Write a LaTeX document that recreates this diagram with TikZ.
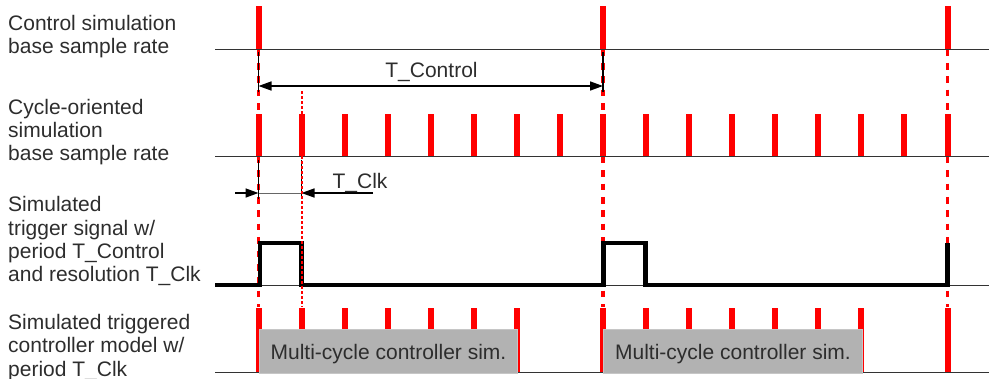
\documentclass[tikz,border=0pt]{standalone}
\usepackage{fontspec}
\setmainfont{Liberation Sans}
\usetikzlibrary{arrows.meta}
\definecolor{txt}{RGB}{45,45,45}
\definecolor{redc}{RGB}{255,0,0}
\definecolor{boxfill}{RGB}{178,178,178}
\definecolor{boxline}{RGB}{198,198,198}
\begin{document}
\begin{tikzpicture}[x=1pt,y=-1pt,
  lbl/.style={anchor=base west, align=left, inner sep=0pt, text=txt, font=\fontsize{21}{23.3}\selectfont},
  dimlbl/.style={anchor=base, inner sep=0pt, text=txt, font=\fontsize{21}{23.3}\selectfont},
  axis/.style={line width=1.5pt, black!80},
  bar/.style={line width=6pt, redc},
  rdash/.style={redc, line width=3.8pt, dash pattern=on 6.7pt off 6.7pt},
  rdot/.style={redc, line width=2pt, dash pattern=on 3pt off 2pt},
  tickline/.style={black, line width=1.2pt},
  dimarrow/.style={black, line width=1.6pt, -{Triangle[length=13pt,width=9pt]}},
  sig/.style={black, line width=4.2pt, line join=miter},
  simbox/.style={fill=boxfill, draw=boxline, line width=1pt, inner sep=0pt, minimum height=43.5pt, text=txt, font=\fontsize{21}{23.3}\selectfont, text height=16pt, text depth=0pt, anchor=north west}
]
\useasboundingbox (0,0) rectangle (989,378);
\clip (0,0) rectangle (989,378);
% red dashed sync lines
\foreach \k in {0,8,16}
  \draw[rdash] ({258.5+43.0625*\k},49.5) -- ({258.5+43.0625*\k},307);
% bars row 1
\foreach \k in {0,8,16}
  \draw[bar] ({258.5+43.0625*\k},6) -- ({258.5+43.0625*\k},49.5);
% bars row 2
\foreach \k in {0,...,16}
  \draw[bar] ({258.5+43.0625*\k},114) -- ({258.5+43.0625*\k},156.5);
% bars row 4
\foreach \k in {0,...,6,8,9,...,14,16}
  \draw[bar] ({258.5+43.0625*\k},308) -- ({258.5+43.0625*\k},372.5);
% axis lines
\draw[axis] (215,49.5) -- (989,49.5);
\draw[axis] (215,156.5) -- (989,156.5);
\draw[black!80, line width=1.2pt] (215,285.8) -- (989,285.8);
\draw[axis] (215,372.5) -- (989,372.5);
% trigger signal
\draw[sig] (215,285.3) -- (259.8,285.3) -- (259.8,243) -- (301.5,243) -- (301.5,285.3)
  -- (603.5,285.3) -- (603.5,243) -- (645.5,243) -- (645.5,285.3) -- (947.5,285.3) -- (947.5,243);
% simulation boxes
\node[simbox, minimum width=258pt] (box1) at (259,329) {Multi-cycle controller sim.};
\node[simbox, minimum width=259pt] (box2) at (603,329) {Multi-cycle controller sim.};
% T_Control dimension
\coordinate (c0) at (258.5,86);
\coordinate (c8) at (603,86);
\coordinate (c0t) at (258.5,52);
\coordinate (c0b) at (258.5,92);
\coordinate (c8t) at (603,52);
\coordinate (c8b) at (603,92);
\draw[tickline] (c0t) -- (c0b);
\draw[tickline] (c8t) -- (c8b);
\draw[black, line width=1.6pt, {Triangle[length=13pt,width=9pt]}-{Triangle[length=13pt,width=9pt]}] (c0) -- (c8);
\node[dimlbl] (tctl) at (431.5,77.5) {T\_Control};
% T_Clk dimension
\coordinate (k0) at (258.5,193);
\coordinate (k1) at (301.5,193);
\coordinate (kl) at (235,193);
\coordinate (kr) at (373,193);
\coordinate (k0t) at (258.5,160);
\coordinate (k0b) at (258.5,199);
\coordinate (k1t) at (301.5,160);
\coordinate (k1b) at (301.5,199);
\draw[tickline] (k0t) -- (k0b);
\draw[tickline] (k1t) -- (k1b);
\draw[black!60, line width=0.9pt] (k0) -- (k1);
\draw[dimarrow] (kl) -- (k0);
\draw[dimarrow] (kr) -- (k1);
\node[dimlbl] (tclk) at (360,188) {T\_Clk};
% dotted red clock line (on top of tick)
\draw[rdot] (301.56,91) -- (301.56,307);
% row labels (anchor at baseline of last line)
\node[lbl] (l1) at (8,53.5) {Control simulation\\base sample rate};
\node[lbl] (l2) at (8,160.7) {Cycle-oriented\\simulation\\base sample rate};
\node[lbl] (l3) at (8,281.8) {Simulated\\trigger signal w/\\period T\_Control\\and resolution T\_Clk};
\node[lbl] (l4) at (8,376) {Simulated triggered\\controller model w/\\period T\_Clk};
\end{tikzpicture}
\end{document}
